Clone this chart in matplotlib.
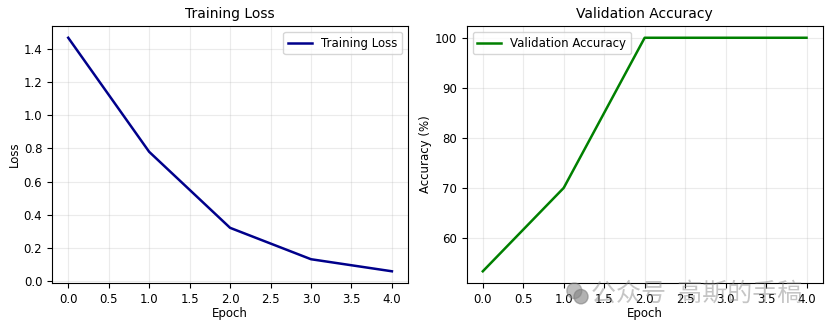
import matplotlib.pyplot as plt
from matplotlib.patches import Ellipse

epochs = [0, 1, 2, 3, 4]
train_loss = [1.47, 0.78, 0.32, 0.13, 0.057]
val_acc = [53.33, 70.0, 100.0, 100.0, 100.0]

plt.rcParams['font.size'] = 8.5

fig = plt.figure(figsize=(8.3, 3.26), dpi=100)
ax1 = fig.add_axes([0.0627, 0.132, 0.429, 0.788])
ax2 = fig.add_axes([0.5622, 0.132, 0.429, 0.788])

ax1.plot(epochs, train_loss, color='darkblue', linewidth=1.8, label='Training Loss')
ax1.set_title('Training Loss', fontsize=10)
ax1.set_xlabel('Epoch', labelpad=1)
ax1.set_ylabel('Loss', labelpad=2)
ax1.grid(True, alpha=0.25)
ax1.legend(loc='upper right')

ax2.plot(epochs, val_acc, color='green', linewidth=1.8, label='Validation Accuracy')
ax2.set_title('Validation Accuracy', fontsize=10)
ax2.set_xlabel('Epoch', labelpad=1)
ax2.set_ylabel('Accuracy (%)', labelpad=2)
ax2.grid(True, alpha=0.25)
ax2.legend(loc='upper left')

# watermark
fig.patches.append(Ellipse((0.692, 0.108), 0.018, 0.048, transform=fig.transFigure,
                           color='gray', alpha=0.5))
fig.patches.append(Ellipse((0.700, 0.090), 0.017, 0.044, transform=fig.transFigure,
                           color='gray', alpha=0.6))
fig.text(0.712, 0.10, '公众号  高斯的手稿', fontsize=18, color='gray', alpha=0.45,
         family=['Noto Sans CJK SC', 'DejaVu Sans'], ha='left', va='center')

fig.savefig('out.png', dpi=100)
